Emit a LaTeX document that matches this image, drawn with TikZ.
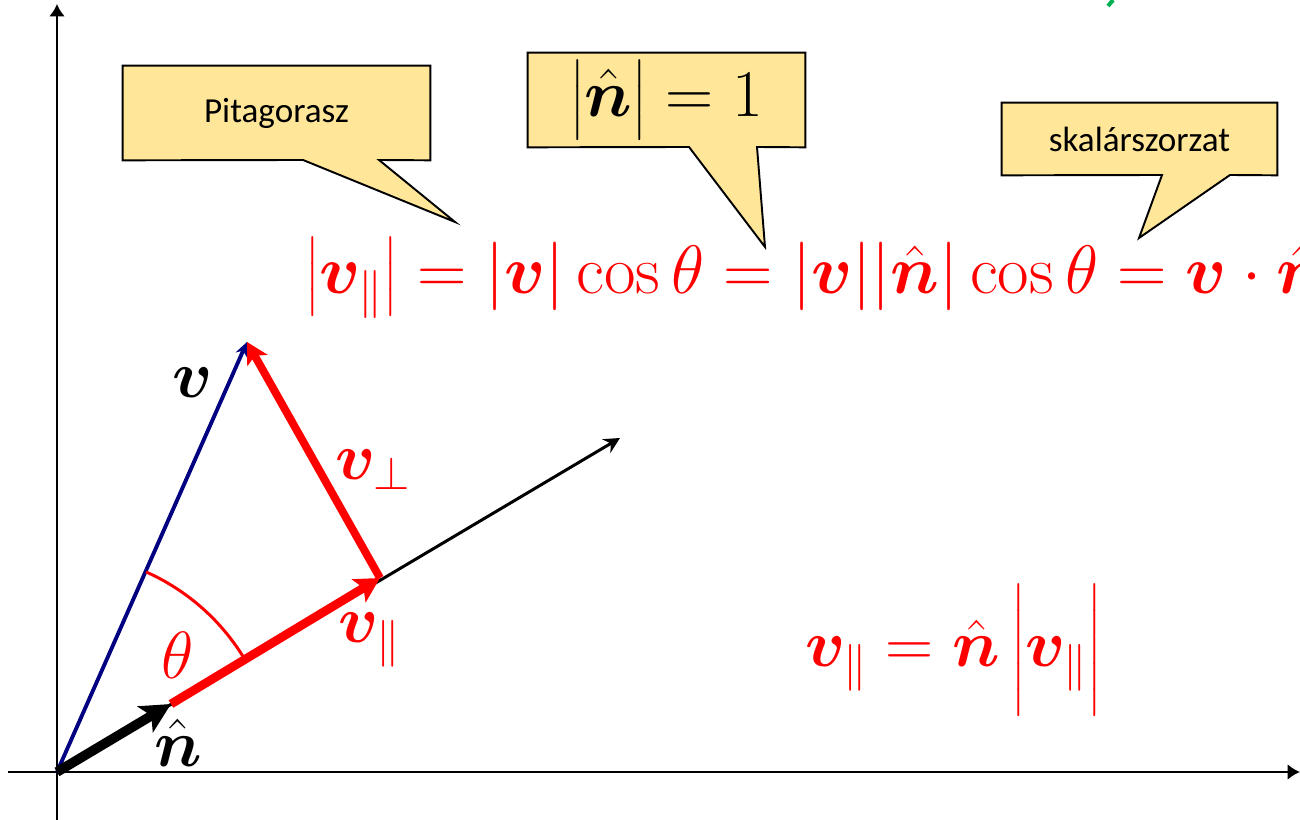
\RequirePackage{fix-cm}
\documentclass[tikz,border=0pt]{standalone}
\usepackage{amsmath}
\usepackage{bm}
\usepackage{fontspec}
\newfontfamily\notefont{Carlito}
\usetikzlibrary{arrows.meta,positioning}

\pgfdeclarelayer{background}
\pgfsetlayers{background,main}

\definecolor{notefill}{HTML}{FFE699}
\definecolor{vnavy}{RGB}{0,0,128}
\definecolor{markgreen}{RGB}{0,176,80}

\newcommand{\bigmath}{\fontsize{38}{46}\selectfont}
\newcommand{\widemath}{\fontsize{39}{47}\selectfont}
\newcommand{\notesize}{\notefont\fontsize{20}{24}\selectfont}
\newcommand{\normbar}[2]{\left|\rule{0pt}{#1}#2\right|}

\tikzset{
  axis/.style={line width=1.4pt, -{Latex[length=7pt,width=9pt]}},
  nline/.style={line width=1.7pt, -{Stealth[length=9pt,width=9pt]}},
  nvec/.style={line width=5.5pt, -{Stealth[length=17pt,width=17pt,inset=4pt]}},
  vvec/.style={vnavy, line width=2.2pt, -{Stealth[length=8pt,width=7pt]}},
  parvec/.style={red, line width=5pt, -{Stealth[length=14pt,width=15pt,inset=3pt]}},
  perpvec/.style={red, line width=4.5pt, -{Stealth[length=12pt,width=13pt,inset=3pt]}},
  anglearc/.style={red, line width=1.7pt},
  notebox/.style={inner sep=0pt, font=\notesize},
  noteshape/.style={draw=black, fill=notefill, line width=1.1pt},
  lbl/.style={inner sep=1pt, font=\bigmath}
}

\begin{document}
\begin{tikzpicture}[x=0.02cm, y=0.02cm, >=Stealth]
  \useasboundingbox (0,0) rectangle (1300,820);
  \clip (0,0) rectangle (1300,820);

  % Points
  \coordinate (O) at (57,48);
  \coordinate (xstart) at (8,48);
  \coordinate (xend) at (1300,48);
  \coordinate (ystart) at (57,0);
  \coordinate (yend) at (57,816);
  \coordinate (nend) at (620,382);
  \coordinate (ntip) at (171,116);
  \coordinate (foot) at (380,242);
  \coordinate (vtip) at (247,478);

  % Axes
  \draw[axis] (xstart) -- (xend);
  \draw[axis] (ystart) -- (yend);
  \draw[nline] (O) -- (nend);

  % Vectors
  \draw[vvec] (O) -- (vtip);
  \draw[parvec] (ntip) -- (foot);
  \draw[perpvec] (foot) -- (vtip);
  \draw[nvec] (O) -- (ntip);
  \draw[anglearc] (O) ++(30.7:219) arc[start angle=30.7, end angle=66, radius=219];

  % Labels
  \node[lbl] (vlbl) at (193,437) {$\bm{v}$};
  \node[lbl, red] (perplbl) at (373,350) {$\bm{v}_{\perp}$};
  \node[lbl, red] (parlbl) at (370,180) {$\bm{v}_{\parallel}$};
  \node[lbl, red] (thetalbl) at (178,165) {$\theta$};
  \node[lbl] (nlbl) at (178,77) {$\bm{\hat{n}}$};

  % Formulas
  \node[lbl, red, anchor=base west, inner sep=0pt, font=\widemath] (normformula) at (305,526)
    {$\normbar{34.5pt}{\bm{v}_{\parallel}} = |\bm{v}|\cos\theta = |\bm{v}||\bm{\hat{n}}|\cos\theta = \bm{v}\cdot\bm{\hat{n}}$};
  \node[lbl, red, anchor=base west, inner sep=0pt] (parformula) at (805,153)
    {$\bm{v}_{\parallel} = \bm{\hat{n}}\normbar{44.5pt}{\bm{v}_{\parallel}}$};

  % Callouts
  \node[notebox, minimum width=6.14cm, minimum height=1.88cm] (pitbox) at (276.5,707) {Pitagorasz};
  \node[notebox, minimum width=5.54cm, minimum height=1.88cm, font=\bigmath] (unitbox) at (666.5,720)
    {$\big|\bm{\hat{n}}\big| = 1$};
  \node[notebox, minimum width=5.5cm, minimum height=1.44cm] (dotbox) at (1139.5,681) {skalárszorzat};

  \coordinate (pitL) at (303,660);
  \coordinate (pitR) at (379,660);
  \coordinate (pittip) at (455,598);
  \coordinate (unitL) at (689,673);
  \coordinate (unitR) at (757,673);
  \coordinate (unittip) at (765,573);
  \coordinate (dotL) at (1162,645);
  \coordinate (dotR) at (1230,645);
  \coordinate (dottip) at (1139,582);

  \begin{pgfonlayer}{background}
    \draw[noteshape] (pitbox.south west) -- (pitbox.north west) -- (pitbox.north east)
      -- (pitbox.south east) -- (pitR) -- (pittip) -- (pitL) -- cycle;
    \draw[noteshape] (unitbox.south west) -- (unitbox.north west) -- (unitbox.north east)
      -- (unitbox.south east) -- (unitR) -- (unittip) -- (unitL) -- cycle;
    \draw[noteshape] (dotbox.south west) -- (dotbox.north west) -- (dotbox.north east)
      -- (dotbox.south east) -- (dotR) -- (dottip) -- (dotL) -- cycle;
  \end{pgfonlayer}

  % Cut-off mark
  \draw[markgreen, line width=2.3pt] (1108,814) -- (1113,820);
\end{tikzpicture}
\end{document}
